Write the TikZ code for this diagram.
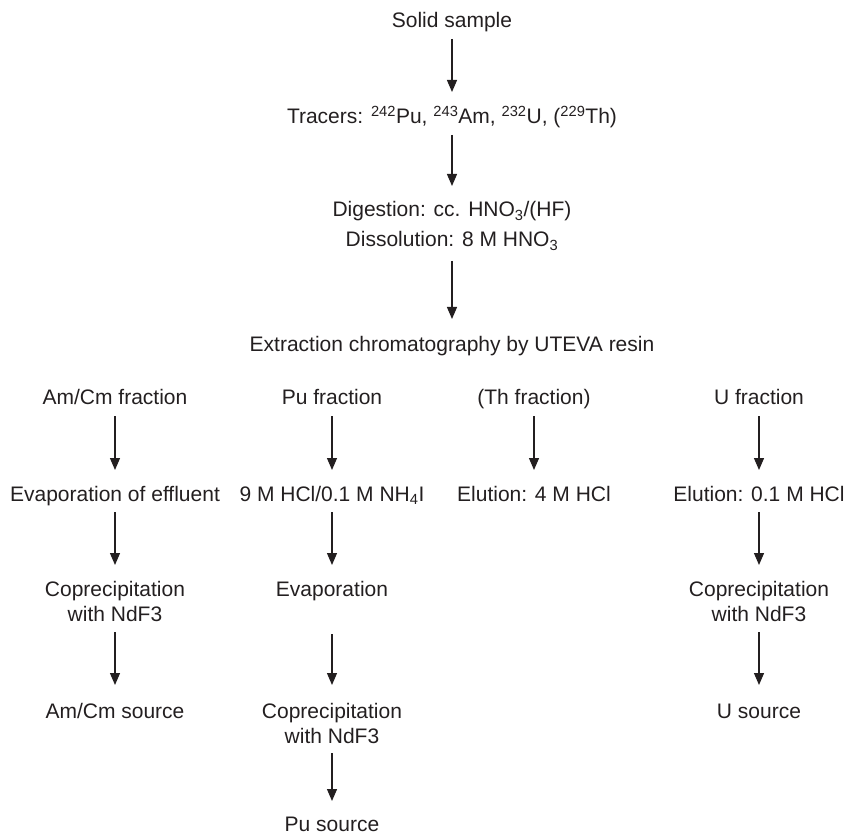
\documentclass[tikz,border=0pt]{standalone}
\usepackage{fontspec}
\setmainfont{Liberation Sans}
\usetikzlibrary{arrows.meta}
\definecolor{ink}{HTML}{231F20}
\newcommand{\twolines}[2]{\begin{tabular}[t]{@{}c@{}}#1\\#2\end{tabular}}
\begin{document}
\begin{tikzpicture}[x=1pt,y=-1pt,
  lbl/.style={anchor=base, inner sep=0pt, text=ink, font=\fontsize{21}{25}\selectfont},
  arr/.style={draw=ink, line width=1.3pt, -{Triangle[width=10pt,length=12pt]}}]
\useasboundingbox (0,0) rectangle (844,837);

% main trunk
\node[lbl] (sample)  at (452,28)  {Solid sample};
\node[lbl] (tracers) at (452,124) {Tracers: \textsuperscript{242}Pu, \textsuperscript{243}Am, \textsuperscript{232}U, (\textsuperscript{229}Th)};
\node[lbl] (digest)  at (452,217) {\begin{tabular}[t]{@{}c@{}}Digestion: cc. HNO\textsubscript{3}/(HF)\\[5pt]Dissolution: 8 M HNO\textsubscript{3}\end{tabular}};
\node[lbl] (extract) at (452,352) {Extraction chromatography by UTEVA resin};

% fractions
\node[lbl] (amf) at (115,404) {Am/Cm fraction};
\node[lbl] (puf) at (332,404) {Pu fraction};
\node[lbl] (thf) at (534,404) {(Th fraction)};
\node[lbl] (uf)  at (759,404) {U fraction};

% first treatment step
\node[lbl] (ameva) at (115,501) {Evaporation of effluent};
\node[lbl] (puhcl) at (332,501) {9 M HCl/0.1 M NH\textsubscript{4}I};
\node[lbl] (thelu) at (534,501) {Elution: 4 M HCl};
\node[lbl] (uelu)  at (759,501) {Elution: 0.1 M HCl};

% second step
\node[lbl] (amcop) at (115,596) {\twolines{Coprecipitation}{with NdF3}};
\node[lbl] (pueva) at (332,596) {Evaporation};
\node[lbl] (ucop)  at (759,596) {\twolines{Coprecipitation}{with NdF3}};

% sources
\node[lbl] (amsrc) at (115,718) {Am/Cm source};
\node[lbl] (pucop) at (332,718) {\twolines{Coprecipitation}{with NdF3}};
\node[lbl] (usrc)  at (759,718) {U source};
\node[lbl] (pusrc) at (332,831) {Pu source};

% connectors
\draw[arr] ([yshift=-11pt]sample.base)  -- ([yshift=32pt]tracers.base);
\draw[arr] ([yshift=-11pt]tracers.base) -- ([yshift=31pt]digest.base);
\draw[arr] ([yshift=-44pt]digest.base)  -- ([yshift=33pt]extract.base);

\draw[arr] ([yshift=-12pt]amf.base) -- ([yshift=31pt]ameva.base);
\draw[arr] ([yshift=-12pt]puf.base) -- ([yshift=31pt]puhcl.base);
\draw[arr] ([yshift=-12pt]thf.base) -- ([yshift=31pt]thelu.base);
\draw[arr] ([yshift=-12pt]uf.base)  -- ([yshift=31pt]uelu.base);

\draw[arr] ([yshift=-11pt]ameva.base) -- ([yshift=31pt]amcop.base);
\draw[arr] ([yshift=-11pt]puhcl.base) -- ([yshift=31pt]pueva.base);
\draw[arr] ([yshift=-11pt]uelu.base)  -- ([yshift=31pt]ucop.base);

\draw[arr] ([yshift=-36pt]amcop.base) -- ([yshift=33pt]amsrc.base);
\draw[arr] ([yshift=-38pt]pueva.base) -- ([yshift=33pt]pucop.base);
\draw[arr] ([yshift=-36pt]ucop.base)  -- ([yshift=33pt]usrc.base);

\draw[arr] ([yshift=-35pt]pucop.base) -- ([yshift=30pt]pusrc.base);
\end{tikzpicture}
\end{document}
